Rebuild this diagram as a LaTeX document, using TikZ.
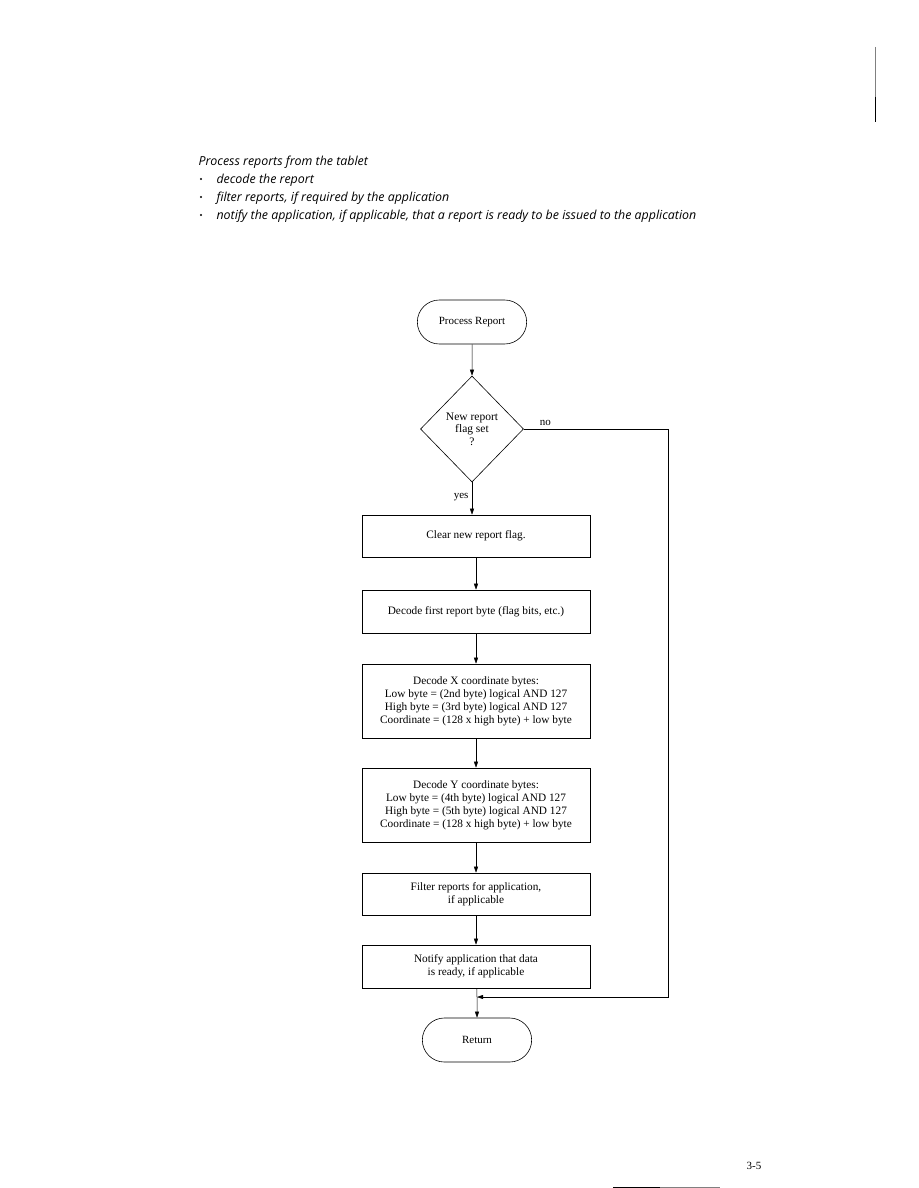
\documentclass[tikz,border=0pt]{standalone}
\usepackage{fontspec}
\setmainfont{Liberation Serif}
\newfontfamily\headfont{Open Sans}
\usetikzlibrary{shapes.geometric,shapes.misc,arrows.meta}

\begin{document}
\begin{tikzpicture}[x=1pt, y=-1pt,
    term/.style={rounded rectangle, draw, line width=0.6pt, minimum width=116pt, minimum height=44pt, font=\fontsize{11}{13}\selectfont},
    decision/.style={diamond, draw, line width=0.6pt, inner sep=0pt, minimum width=103pt, minimum height=106pt, align=center, font=\fontsize{11.5}{12.5}\selectfont},
    proc/.style={rectangle, draw, line width=0.6pt, minimum width=228pt, align=center, font=\fontsize{11.3}{13}\selectfont},
    arrow/.style={-{Triangle[width=4pt,length=6pt]}, line width=0.5pt},
    lbl/.style={font=\fontsize{11}{12}\selectfont},
    head/.style={anchor=base west, font=\headfont\itshape\fontsize{12.4}{13}\selectfont}
]
\useasboundingbox (0,0) rectangle (918,1188);

% header text
\node[head] (title) at (195,165) {Process reports from the tablet};
\node[head] (b1) at (213,183) {decode the report};
\node[head] (b2) at (213,201) {filter reports, if required by the application};
\node[head] (b3) at (213,219) {notify the application, if applicable, that a report is ready to be issued to the application};
\foreach \y in {179,197,215} \fill (201,\y) circle (1.2pt);

% flowchart
\node[term] (start) at (472,322) {Process Report};
\node[decision] (newflag) at (472,429) {New report\\flag set\\?};
\node[proc, minimum height=42pt] (clear) at (476,536) {Clear new report flag.};
\node[proc, minimum height=43pt] (first) at (476,611.5) {Decode first report byte (flag bits, etc.)};
\node[proc, minimum height=74pt] (xbytes) at (476,701) {Decode X coordinate bytes:\\Low byte = (2nd byte) logical AND 127\\High byte = (3rd byte) logical AND 127\\Coordinate = (128 x high byte) + low byte};
\node[proc, minimum height=74pt] (ybytes) at (476,805) {Decode Y coordinate bytes:\\Low byte = (4th byte) logical AND 127\\High byte = (5th byte) logical AND 127\\Coordinate = (128 x high byte) + low byte};
\node[proc, minimum height=42pt] (filter) at (476,894) {Filter reports for application,\\if applicable};
\node[proc, minimum height=43pt] (notify) at (476,966.5) {Notify application that data\\is ready, if applicable};
\node[term] (ret) at (477,1040) {Return};

\coordinate (nocorner) at (668,429);
\coordinate (merge) at (477,997);

\draw[arrow] (start) -- (newflag);
\draw[arrow] (newflag.south) -- node[lbl, left, pos=0.45] {yes} (newflag.south |- clear.north);
\draw[arrow] (clear) -- (first);
\draw[arrow] (first) -- (xbytes);
\draw[arrow] (xbytes) -- (ybytes);
\draw[arrow] (ybytes) -- (filter);
\draw[arrow] (filter) -- (notify);
\draw[line width=0.5pt] (notify) -- (merge);
\draw[arrow] (merge) -- (ret);
\draw[arrow] (newflag.east) -- node[lbl, above, pos=0.15] {no} (nocorner) |- (merge);

% page marks
\draw[gray, line width=1pt] (875,47) -- (875,97);
\draw[line width=1pt] (875,97) -- (875,122);
\node[font=\fontsize{11}{12}\selectfont] (pagenum) at (754,1166) {3-5};
\draw[line width=1pt] (613,1187) -- (660,1187);
\draw[gray, line width=1pt] (660,1187) -- (720,1187);
\end{tikzpicture}
\end{document}
